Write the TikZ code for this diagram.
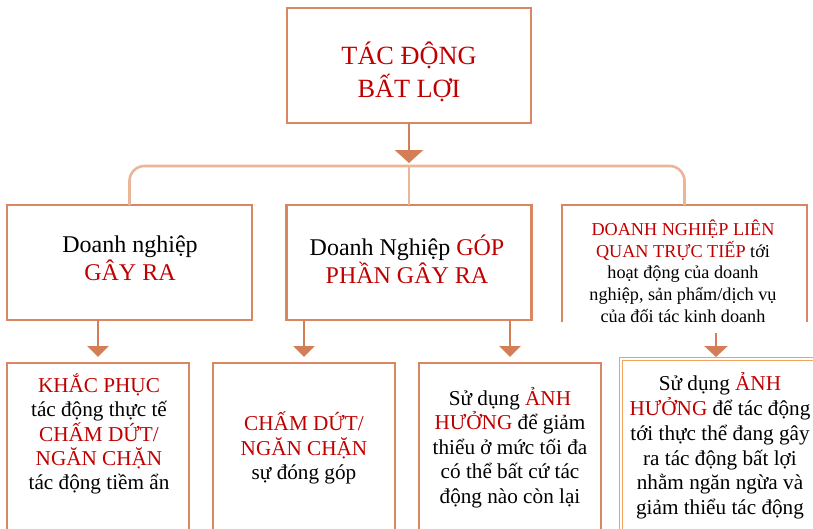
\documentclass[tikz,border=0pt]{standalone}
\usepackage{fontspec}
\setmainfont{Liberation Serif}
\usetikzlibrary{arrows.meta}
\definecolor{tred}{HTML}{C00000}
\definecolor{frameC}{HTML}{DA8662}
\definecolor{arrowC}{HTML}{D47E58}
\definecolor{brackC}{HTML}{EBB697}
\definecolor{dblC}{HTML}{F2A35E}
\newcommand{\rd}[1]{\textcolor{tred}{#1}}
\begin{document}
\begin{tikzpicture}[x=1pt,y=-1pt,
  shell/.style={rectangle, inner sep=0pt, outer sep=0pt},
  frame/.style={draw=frameC, line width=2.6pt},
  txt/.style={align=center, inner sep=0pt, text=black},
  arrowline/.style={draw=arrowC, line width=2.8pt},
  brack/.style={draw=brackC, line width=2.6pt},
  bigtip/.style={-{Triangle[width=28pt,length=13pt]}},
  smalltip/.style={-{Triangle[width=21pt,length=11pt]}},
  f26/.style={font=\fontsize{26.3}{33}\selectfont},
  f24/.style={font=\fontsize{24}{28}\selectfont},
  f18/.style={font=\fontsize{18.2}{21.7}\selectfont},
  f20/.style={font=\fontsize{21.2}{24.3}\selectfont}
]
\useasboundingbox (0,0) rectangle (813,528);

% frames
\node[shell, frame, minimum width=244pt, minimum height=115pt] (top) at (409,65.5) {};
\node[shell, frame, minimum width=245pt, minimum height=115pt] (A) at (129.5,262.5) {};
\node[shell, frame, minimum width=245pt, minimum height=115pt] (B) at (409,262.5) {};
\node[shell, minimum width=245pt, minimum height=117pt] (C) at (684.5,263.5) {};
\draw[frame] (C.south west) -- (C.north west) -- (C.north east) -- (C.south east);

\node[shell, minimum width=182pt, minimum height=167pt] (R1) at (98,446.5) {};
\node[shell, minimum width=182pt, minimum height=167pt] (R2) at (304,446.5) {};
\node[shell, minimum width=182pt, minimum height=167pt] (R3) at (510,446.5) {};
\node[shell, minimum width=200pt, minimum height=171pt] (R4) at (721,444.5) {};
\draw[frame] (R1.south west) -- (R1.north west) -- (R1.north east) -- (R1.south east);
\draw[frame] (R2.south west) -- (R2.north west) -- (R2.north east) -- (R2.south east);
\draw[frame] (R3.south west) -- (R3.north west) -- (R3.north east) -- (R3.south east);
\draw[draw=dblC, line width=1.3pt, double=white, double distance=2pt]
  (R4.south west) -- (R4.north west) -- (R4.north east);

% texts
\node[txt, f26] (topT) at (409,72) {\rd{TÁC ĐỘNG}\\\rd{BẤT LỢI}};
\node[txt, f24] (AT) at (130,258) {Doanh nghiệp\\\rd{GÂY RA}};
\node[txt, f24] (BT) at (407,259.5) {Doanh Nghiệp \rd{GÓP}\\\rd{PHẦN GÂY RA}};
\node[txt, f18] (CT) at (683,271) {\rd{DOANH NGHIỆP LIÊN}\\\rd{QUAN TRỰC TIẾP} tới\\hoạt động của doanh\\nghiệp, sản phẩm/dịch vụ\\của đối tác kinh doanh};
\node[txt, f20] (R1T) at (99,434) {\rd{KHẮC PHỤC}\\tác động thực tế\\\rd{CHẤM DỨT/}\\\rd{NGĂN CHẶN}\\tác động tiềm ẩn};
\node[txt, f20] (R2T) at (304,448) {\rd{CHẤM DỨT/}\\\rd{NGĂN CHẶN}\\sự đóng góp};
\node[txt, f20, font=\fontsize{21.2}{24.5}\selectfont] (R3T) at (510,447.5) {Sử dụng \rd{ẢNH}\\\rd{HƯỞNG} để giảm\\thiểu ở mức tối đa\\có thể bất cứ tác\\động nào còn lại};
\node[txt, f20, font=\fontsize{21.2}{24.8}\selectfont] (R4T) at (720,446) {Sử dụng \rd{ẢNH}\\\rd{HƯỞNG} để tác động\\tới thực thể đang gây\\ra tác động bất lợi\\nhằm ngăn ngừa và\\giảm thiểu tác động};

% connectors
\coordinate (bar) at (409,166);
\draw[arrowline, bigtip, shorten >=3pt] (top.south) -- (bar);
\draw[brack, rounded corners=15pt] (A.north) |- (bar) -| (C.north);
\draw[brack] (bar) -- (B.north);

\draw[arrowline, smalltip, shorten >=6pt] (A.south -| R1.north) -- (R1.north);
\draw[arrowline, smalltip, shorten >=6pt] (B.south -| R2.north) -- (R2.north);
\draw[arrowline, smalltip, shorten >=6pt] (B.south -| R3.north) -- (R3.north);
\coordinate (c4) at (716,333);
\draw[arrowline, -{Triangle[width=23pt,length=11pt]}, shorten >=2pt] (c4) -- (c4 |- R4.north);
\end{tikzpicture}
\end{document}
